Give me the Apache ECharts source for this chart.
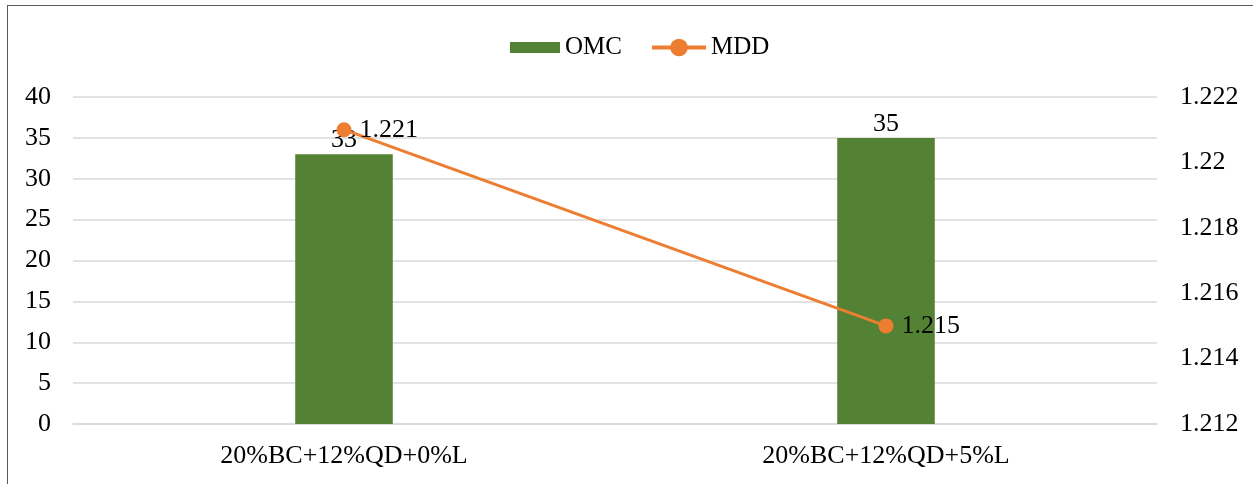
<!DOCTYPE html>
<html>
<head>
<meta charset="utf-8">
<script src="https://cdn.jsdelivr.net/npm/echarts@6/dist/echarts.min.js"></script>
<style>
  html, body { margin: 0; padding: 0; background: #fff; }
  #frame { position: absolute; left: 7px; top: 5px; width: 1260px; height: 500px;
           border: 1.5px solid #595959; box-sizing: border-box; }
  #chart { position: absolute; left: 0; top: 0; width: 1253px; height: 484px; }
</style>
</head>
<body>
<div id="frame"></div>
<div id="chart"></div>
<script>
// Mix designs and the two measured properties
const categories = ['20%BC+12%QD+0%L', '20%BC+12%QD+5%L'];
const omcValues = [33, 35];
const mddValues = [1.221, 1.215];

const font = 'Liberation Serif, "Times New Roman", serif';
const legendText = { fontFamily: font, fontSize: 25, color: '#000' };

const chart = echarts.init(document.getElementById('chart'), null, { renderer: 'canvas' });
chart.setOption({
  animation: false,
  textStyle: { fontFamily: font, color: '#000' },
  legend: [
    {
      left: 505, top: 30,
      itemWidth: 50, itemHeight: 11, itemGap: 0,
      textStyle: legendText,
      data: [{ name: 'OMC', icon: 'rect' }]
    },
    {
      left: 645, top: 30,
      itemWidth: 54, itemHeight: 22, itemGap: 0,
      textStyle: legendText,
      lineStyle: { width: 4 },
      data: [{ name: 'MDD' }]
    }
  ],
  grid: { left: 73, right: 96, top: 97, bottom: 60 },
  xAxis: {
    type: 'category',
    data: categories,
    axisTick: { show: false },
    axisLine: { lineStyle: { color: '#d9d9d9', width: 1.5 } },
    axisLabel: { fontFamily: font, fontSize: 26, color: '#000', margin: 19 }
  },
  yAxis: [
    {
      type: 'value', min: 0, max: 40, interval: 5,
      axisLine: { show: false }, axisTick: { show: false },
      axisLabel: { fontFamily: font, fontSize: 26, color: '#000', margin: 22 },
      splitLine: { lineStyle: { color: '#d9d9d9', width: 1.5 } }
    },
    {
      type: 'value', min: 1.212, max: 1.222, interval: 0.002,
      axisLine: { show: false }, axisTick: { show: false },
      axisLabel: { fontFamily: font, fontSize: 26, color: '#000', margin: 23, align: 'left' },
      splitLine: { show: false }
    }
  ],
  series: [
    {
      name: 'OMC',
      type: 'bar',
      data: omcValues,
      yAxisIndex: 0,
      barWidth: '18%',
      itemStyle: { color: '#548235' },
      label: { show: true, position: 'top', distance: 1, fontFamily: font, fontSize: 26, color: '#000' }
    },
    {
      name: 'MDD',
      type: 'line',
      data: mddValues,
      yAxisIndex: 1,
      symbol: 'circle',
      symbolSize: 15,
      lineStyle: { color: '#ED7D31', width: 3 },
      itemStyle: { color: '#ED7D31' },
      label: { show: true, position: 'right', distance: 8, fontFamily: font, fontSize: 26, color: '#000' },
      z: 3
    }
  ]
});
</script>
</body>
</html>
